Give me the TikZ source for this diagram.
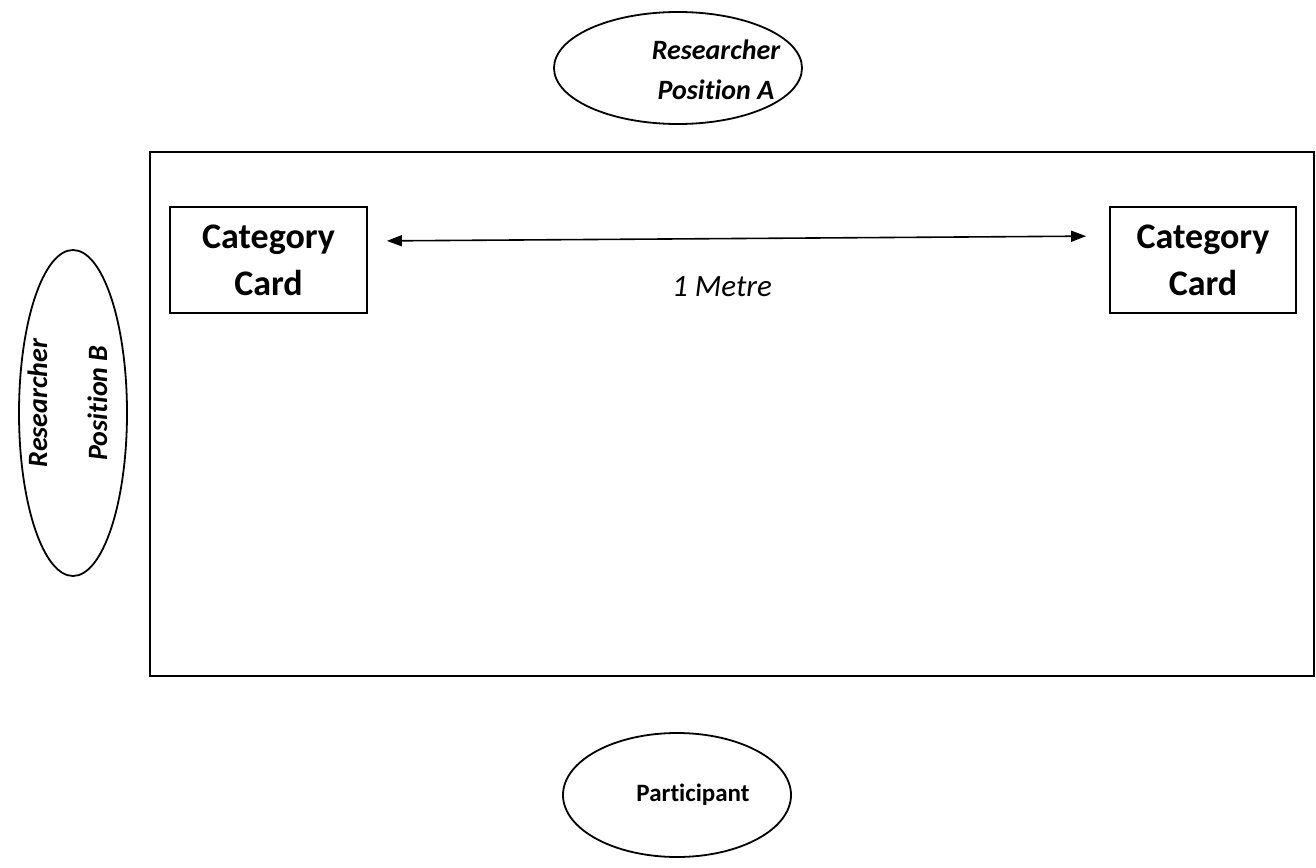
\documentclass[tikz,border=0pt]{standalone}
\usepackage{fontspec}
\setmainfont{Carlito}[Ligatures=NoCommon]
\usetikzlibrary{shapes.geometric,arrows.meta}
\begin{document}
\begin{tikzpicture}[x=1pt,y=-1pt,
  ell/.style={draw, line width=1.8pt, ellipse, inner sep=0pt},
  card/.style={draw, line width=1.8pt, minimum height=106pt, inner sep=0pt,
    font=\fontsize{36}{47}\selectfont\bfseries, align=center},
  lbl/.style={inner sep=0pt, align=center, font=\fontsize{28}{40}\selectfont\bfseries\itshape},
  arr/.style={line width=1.6pt, {Triangle[length=15pt,width=11pt]}-{Triangle[length=15pt,width=11pt]}}]
\useasboundingbox (0,0) rectangle (1316,867);
\node[draw, line width=2pt, minimum width=1164pt, minimum height=524pt] (table) at (732,414) {};
\node[card, minimum width=197pt] (cl) at (268.5,260) {Category\\Card};
\node[card, minimum width=186pt] (cr) at (1203,260) {Category\\Card};
\draw[arr, shorten <=19pt, shorten >=23pt] ([yshift=19pt]cl.east) -- ([yshift=24pt]cr.west);
\node[inner sep=0pt, font=\fontsize{31}{36}\selectfont\itshape] (metre) at (722,287) {1 Metre};
\node[ell, minimum width=248pt, minimum height=112pt] (ra) at (678,68) {};
\node[lbl] (ratext) at (716,70) {Researcher\\Position A};
\node[ell, minimum width=108pt, minimum height=326pt] (rb) at (73,413) {};
\node[lbl, rotate=90, font=\fontsize{28}{60}\selectfont\bfseries\itshape] (rbtext) at (67.5,403) {Researcher\\Position B};
\node[ell, minimum width=228pt, minimum height=124pt] (pa) at (677,795) {};
\node[inner sep=0pt, font=\fontsize{25}{30}\selectfont\bfseries] (patext) at (693,795) {Participant};
\end{tikzpicture}
\end{document}
